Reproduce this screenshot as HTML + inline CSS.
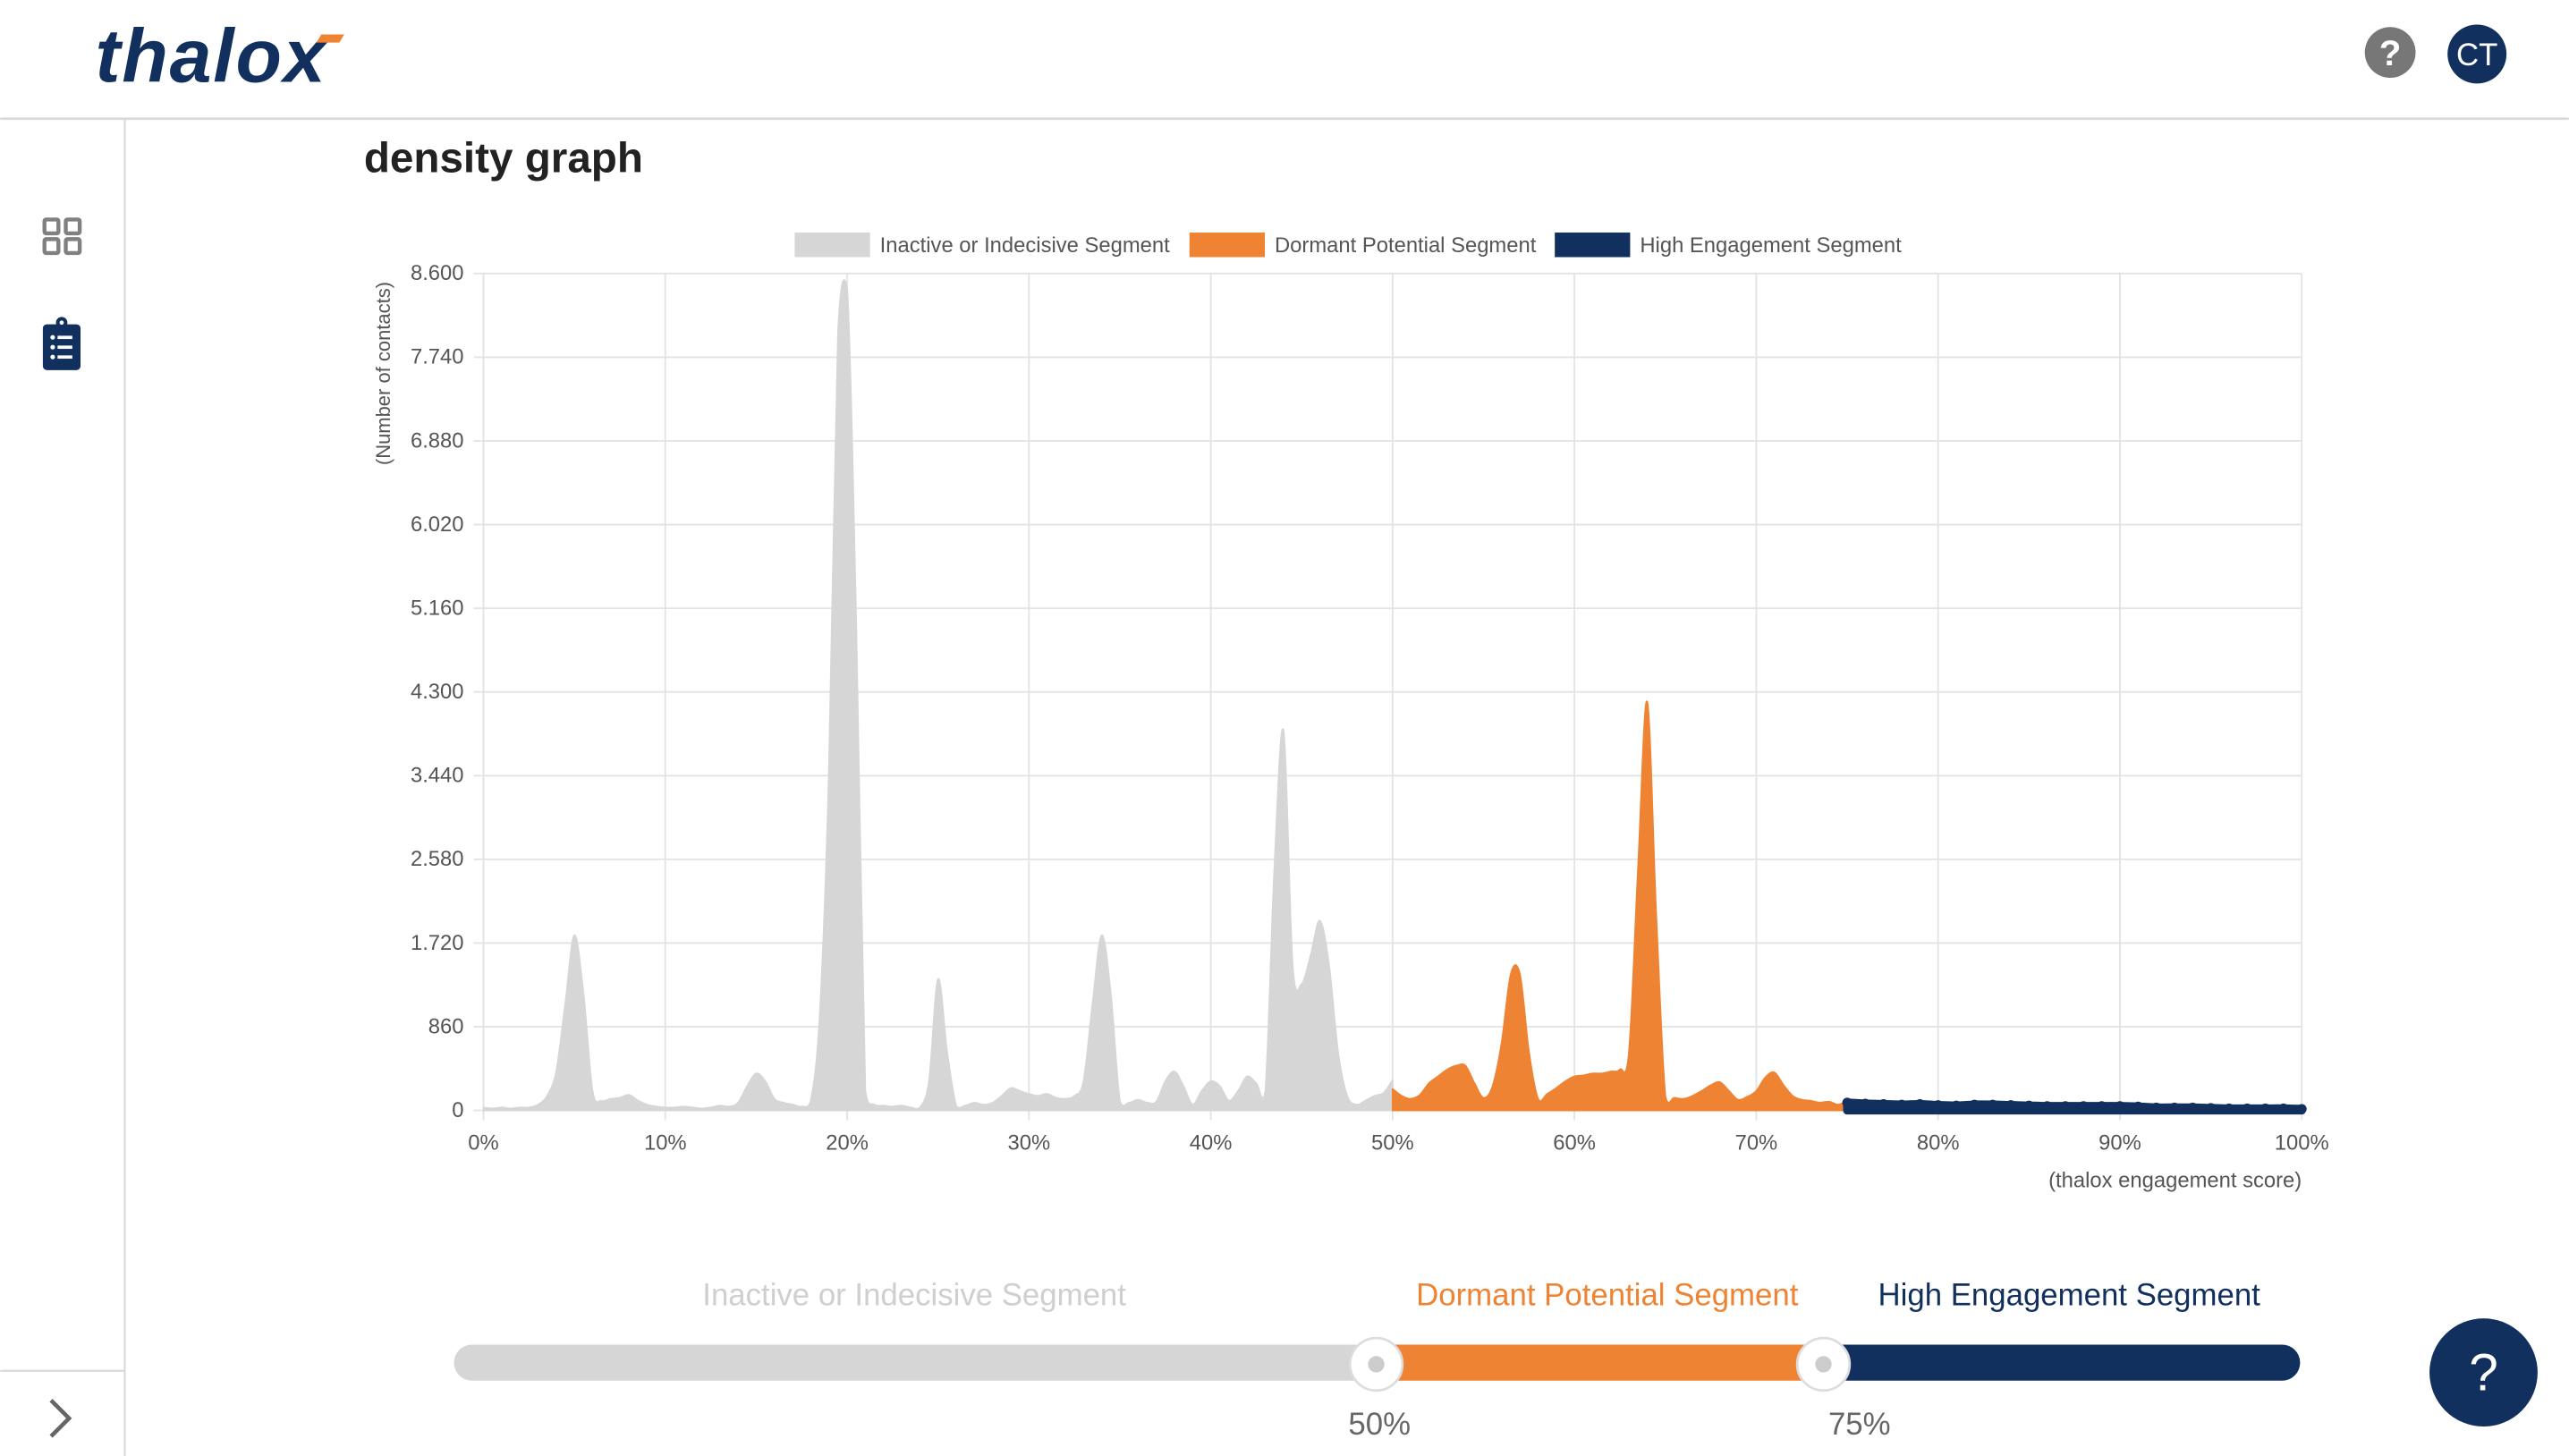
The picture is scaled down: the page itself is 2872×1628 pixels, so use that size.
<!DOCTYPE html>
<html><head><meta charset="utf-8"><style>
html,body{margin:0;padding:0;background:#fff;}
svg{display:block;font-family:"Liberation Sans",sans-serif;}
</style></head><body>
<svg id="root" width="2872" height="1628" viewBox="0 0 1568 889" xmlns="http://www.w3.org/2000/svg">
  <rect x="0" y="0" width="1568" height="889" fill="#fff"/>
  <g>
    <text x="58" y="50" font-size="46" font-weight="bold" font-style="italic" fill="#12305e" letter-spacing="1">thalox</text>
    <polygon points="196,21 210,21 207,26 193,26" fill="#ee8433"/>
    <line x1="0" y1="72.5" x2="1568" y2="72.5" stroke="#d9d9d9" stroke-width="1.5"/>
    <g>
      <circle cx="1459" cy="32" r="15.5" fill="#777"/>
      <text x="1459" y="40" font-size="22" font-weight="bold" fill="#fff" text-anchor="middle">?</text>
    </g>
    <g>
      <circle cx="1512" cy="33" r="18" fill="#12305e"/>
      <text x="1512" y="40" font-size="19" fill="#fff" text-anchor="middle">CT</text>
    </g>
  </g>
  <g>
    <line x1="76" y1="72" x2="76" y2="889" stroke="#d9d9d9" stroke-width="1.2"/>
    <line x1="0" y1="837" x2="76" y2="837" stroke="#d9d9d9" stroke-width="1.2"/>
    <g fill="none" stroke="#808080" stroke-width="2.4">
      <rect x="27" y="134" width="8.5" height="8.5" rx="1"/><rect x="40" y="134" width="8.5" height="8.5" rx="1"/>
      <rect x="27" y="146" width="8.5" height="8.5" rx="1"/><rect x="40" y="146" width="8.5" height="8.5" rx="1"/>
    </g>
    <g>
      <rect x="26" y="198" width="23" height="28" rx="2.5" fill="#12305e"/>
      <circle cx="37.5" cy="197" r="3.5" fill="#12305e"/>
      <circle cx="37.5" cy="197" r="1.3" fill="#fff"/>
      <g fill="#fff"><circle cx="32" cy="206" r="1.4"/><circle cx="32" cy="212" r="1.4"/><circle cx="32" cy="218" r="1.4"/>
      <rect x="35" y="205" width="9" height="2"/><rect x="35" y="211" width="9" height="2"/><rect x="35" y="217" width="9" height="2"/></g>
    </g>
    <polyline points="31,855 42,866 31,877" fill="none" stroke="#666" stroke-width="2.5"/>
  </g>
  <text x="222" y="105" font-size="26" font-weight="bold" fill="#222">density graph</text>
  <g>
    <g><rect x="485" y="142" width="46" height="15" fill="#d6d6d6"/><text x="537" y="154" font-size="13" fill="#555">Inactive or Indecisive Segment</text></g>
    <g><rect x="726" y="142" width="46" height="15" fill="#ee8433"/><text x="778" y="154" font-size="13" fill="#555">Dormant Potential Segment</text></g>
    <g><rect x="949" y="142" width="46" height="15" fill="#12305e"/><text x="1001" y="154" font-size="13" fill="#555">High Engagement Segment</text></g>
  </g>
  <g id="grid"></g>
  <g id="series"></g>
  <g id="axes"></g>
  <text x="238" y="228" font-size="12" fill="#555" text-anchor="middle" transform="rotate(-90 238 228)">(Number of contacts)</text>
  <text x="1405" y="725" font-size="13" fill="#555" text-anchor="end">(thalox engagement score)</text>

  <g>
    <text x="558" y="797" font-size="19" fill="#cfcfcf" text-anchor="middle">Inactive or Indecisive Segment</text>
    <text x="981" y="797" font-size="19" fill="#ee8433" text-anchor="middle">Dormant Potential Segment</text>
    <text x="1263" y="797" font-size="19" fill="#12305e" text-anchor="middle">High Engagement Segment</text>
    <rect x="277" y="821" width="580" height="22" rx="11" fill="#d6d6d6"/>
    <rect x="1100" y="821" width="304" height="22" rx="11" fill="#12305e"/>
    <rect x="840" y="821" width="273" height="22" fill="#ee8433"/>
    <g><circle cx="840" cy="833" r="16" fill="#fff" stroke="#ddd" stroke-width="1.5"/><circle cx="840" cy="833" r="5" fill="#ccc"/></g>
    <g><circle cx="1113" cy="833" r="16" fill="#fff" stroke="#ddd" stroke-width="1.5"/><circle cx="1113" cy="833" r="5" fill="#ccc"/></g>
    <text x="842" y="876" font-size="19" fill="#666" text-anchor="middle">50%</text>
    <text x="1135" y="876" font-size="19" fill="#666" text-anchor="middle">75%</text>
  </g>
  <g>
    <circle cx="1516" cy="838" r="33" fill="#12305e"/>
    <text x="1516" y="849" font-size="32" fill="#fff" text-anchor="middle">?</text>
  </g>
</svg>
<script>
// density values at 0.5% steps
const inactiveStart = 0;
const inactiveValues = [30,20,30,20,30,30,60,150,400,1100,1800,1200,200,100,120,130,160,100,60,40,
 30,30,40,30,20,30,50,40,80,250,380,300,120,80,60,40,100,1000,3500,8000,
 8450,5000,200,60,50,40,50,30,30,300,1350,600,50,50,80,60,80,150,230,200,
 170,150,170,130,120,150,300,1100,1800,1200,100,80,110,80,90,300,400,250,60,200,
 300,250,100,200,350,280,200,2500,3900,1500,1300,1600,1950,1500,600,150,60,100,150,180,310];
const dormantStart = 50;
const dormantValues = [220,150,120,160,280,350,420,460,460,280,130,250,700,1400,1400,600,120,170,230,300,
 350,360,380,380,400,420,600,2500,4200,2000,150,130,120,150,200,260,290,200,110,140,
 200,340,390,260,150,110,100,80,90,60,100];
const highStart = 75;
const highValues = [80,70,65,60,65,55,50,60,60,55,50,45,45,45,45,45,40,30,30,30,25,20,20,20,20,15];
const yTicks = [0,860,1720,2580,3440,4300,5160,6020,6880,7740,8600];
const yTickLabels = ["0","860","1.720","2.580","3.440","4.300","5.160","6.020","6.880","7.740","8.600"];
const xTicks = [0,10,20,30,40,50,60,70,80,90,100];

const NS="http://www.w3.org/2000/svg";
const X0=295,X1=1405,Y0=678,Y1=167;
const xs=p=>X0+(X1-X0)*p/100;
const ys=v=>Y0-(Y0-Y1)*v/8600;
function mk(tag,attrs,parent){const e=document.createElementNS(NS,tag);for(const k in attrs)e.setAttribute(k,attrs[k]);parent.appendChild(e);return e;}
const grid=document.getElementById('grid'),axes=document.getElementById('axes'),series=document.getElementById('series');
yTicks.forEach((t,i)=>{
  const l=mk('line',{x1:X0-6,x2:X1,y1:ys(t),y2:ys(t),stroke:'#e3e3e3','stroke-width':1},grid);
  
  
  const tx=mk('text',{x:283,y:ys(t)+4,'font-size':13,fill:'#555','text-anchor':'end'},axes);
  tx.textContent=yTickLabels[i];
  
  
});
xTicks.forEach(t=>{
  const l=mk('line',{x1:xs(t),x2:xs(t),y1:Y1,y2:Y0+6,stroke:'#e3e3e3','stroke-width':1},grid);
  
  
  const tx=mk('text',{x:xs(t),y:702,'font-size':13,fill:'#555','text-anchor':'middle'},axes);
  tx.textContent=t+'%';
  
  
});
function smoothPath(pts){
  let d='M'+pts[0][0]+','+pts[0][1];
  for(let i=0;i<pts.length-1;i++){
    const p0=pts[Math.max(0,i-1)],p1=pts[i],p2=pts[i+1],p3=pts[Math.min(pts.length-1,i+2)];
    const c1x=p1[0]+(p2[0]-p0[0])/6,c1y=Math.max(Y1,Math.min(Y0,p1[1]+(p2[1]-p0[1])/6));
    const c2x=p2[0]-(p3[0]-p1[0])/6,c2y=Math.max(Y1,Math.min(Y0,p2[1]-(p3[1]-p1[1])/6));
    d+=' C'+c1x+','+c1y+' '+c2x+','+c2y+' '+p2[0]+','+p2[1];
  }
  return d;
}
function area(start,step,vals,color,name,dots){
  const pts=vals.map((v,i)=>[xs(start+i*step),ys(v)]);
  const d=smoothPath(pts)+' L'+pts[pts.length-1][0]+','+Y0+' L'+pts[0][0]+','+Y0+' Z';
  const p=mk('path',{d:d,fill:color,stroke:color,'stroke-width':dots?5:1,'stroke-linejoin':'round'},series);
  
  
  if(dots){pts.forEach(q=>{
    const c=mk('circle',{cx:q[0],cy:q[1],r:3,fill:color},series);
    
    
  });}
}
area(inactiveStart,0.5,inactiveValues,'#d6d6d6','inactive-segment-area',false);
area(dormantStart,0.5,dormantValues,'#ee8433','dormant-segment-area',false);
area(highStart,1,highValues,'#12305e','high-engagement-segment-area',true);
</script>
</body></html>
